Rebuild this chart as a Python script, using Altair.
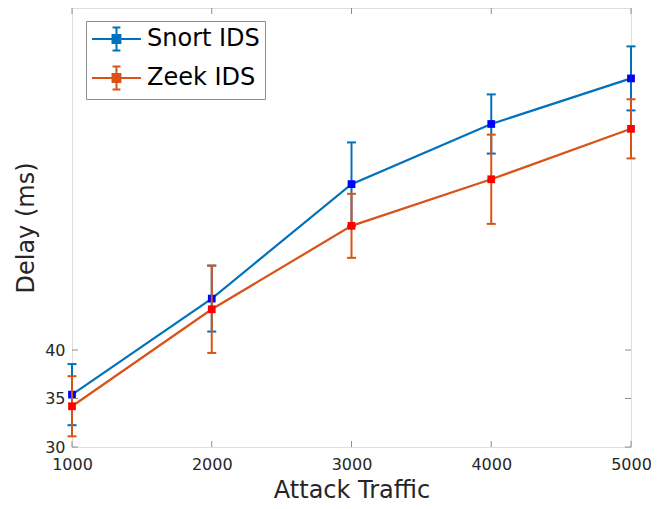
import altair as alt
import pandas as pd

# ---- data ----
traffic = [1000, 2000, 3000, 4000, 5000]
series_names = ["Snort IDS", "Zeek IDS"]
snort_delay = [35.4, 45.3, 57.1, 63.3, 68.0]
snort_err = [3.15, 3.4, 4.3, 3.05, 3.3]
zeek_delay = [34.2, 44.2, 52.8, 57.6, 62.8]
zeek_err = [3.1, 4.5, 3.3, 4.6, 3.05]
y_ticks = [30, 35, 40]
x_ticks = [1000, 2000, 3000, 4000, 5000]

line_colors = ["#0072BD", "#D95319"]
marker_colors = ["#0000FF", "#FF0000"]

rows = []
for name, vals, errs in [(series_names[0], snort_delay, snort_err),
                         (series_names[1], zeek_delay, zeek_err)]:
    for x, v, e in zip(traffic, vals, errs):
        rows.append({"series": name, "x": x, "y": v, "lo": v - e, "hi": v + e})
df = pd.DataFrame(rows)

W, H = 559, 439
Y_DOM = [30, 30 + 439 / 9.7]
X_DOM = [1000, 5000]
AX = "#8c8c8c"
TXT = "#262626"

sym = ("M-1,0H3.08M0.71,-0.333H1.37V0.333H0.71Z"
       "M1.04,-0.96V0.96M0.71,-0.96H1.37M0.71,0.96H1.37")

legend = alt.Legend(title=None, orient="none", legendX=14, legendY=13,
                    symbolType=sym, symbolSize=576, symbolStrokeWidth=2,
                    symbolOpacity=1,
                    labelFontSize=24, labelColor="#000000", labelFont="DejaVu Sans",
                    labelOffset=30, rowPadding=7, padding=5,
                    strokeColor=AX, fillColor="white")

xs = alt.Scale(domain=X_DOM, nice=False, zero=False)
ys = alt.Scale(domain=Y_DOM, nice=False, zero=False)
cs = alt.Scale(domain=series_names, range=line_colors)
fs = alt.Scale(domain=series_names, range=marker_colors)

x_axis = alt.Axis(values=x_ticks, format="d", title="Attack Traffic", grid=False,
                  domain=False, ticks=False, labelFlush=False, labelOverlap=False,
                  labelFontSize=16, labelColor=TXT, labelPadding=9,
                  titleFontSize=24, titleFontWeight="normal", titleColor=TXT,
                  titlePadding=6, labelFont="DejaVu Sans", titleFont="DejaVu Sans")
y_axis = alt.Axis(values=y_ticks, title="Delay (ms)", grid=False,
                  domain=False, ticks=False, labelFlush=False, labelOverlap=False,
                  labelFontSize=16, labelColor=TXT, labelPadding=7,
                  titleFontSize=24, titleFontWeight="normal", titleColor=TXT,
                  titlePadding=6, labelFont="DejaVu Sans", titleFont="DejaVu Sans")


def X(f):
    return alt.X(f, scale=xs, axis=x_axis)


def Y(f):
    return alt.Y(f, scale=ys, axis=y_axis)


base = alt.Chart(df)
layers = []
for name in series_names:
    sub = base.transform_filter(alt.datum.series == name)
    col = alt.Color("series:N", scale=cs, legend=legend)
    fil = alt.Fill("series:N", scale=fs, legend=legend)
    layers.append(sub.mark_line(strokeWidth=2.2, opacity=1).encode(
        x=X("x:Q"), y=Y("y:Q"), color=col))
    layers.append(sub.mark_rule(strokeWidth=2, opacity=1).encode(
        x=X("x:Q"), y=Y("lo:Q"), y2="hi:Q", color=col))
    layers.append(sub.mark_tick(orient="horizontal", size=9, thickness=2, opacity=1).encode(
        x=X("x:Q"), y=Y("lo:Q"), color=col))
    layers.append(sub.mark_tick(orient="horizontal", size=9, thickness=2, opacity=1).encode(
        x=X("x:Q"), y=Y("hi:Q"), color=col))
    layers.append(sub.mark_point(shape="square", filled=True, size=60, opacity=1,
                                 strokeWidth=0).encode(
        x=X("x:Q"), y=Y("y:Q"), fill=fil))

# inward tick marks (MATLAB-style box ticks)
yt = pd.DataFrame({"v": y_ticks})
xt = pd.DataFrame({"v": x_ticks})
TL = 6
layers.append(alt.Chart(yt).mark_rule(color=AX, strokeWidth=1).encode(
    y=Y("v:Q"), x=alt.value(0), x2=alt.value(TL)))
layers.append(alt.Chart(yt).mark_rule(color=AX, strokeWidth=1).encode(
    y=Y("v:Q"), x=alt.value(W - TL), x2=alt.value(W)))
layers.append(alt.Chart(xt).mark_rule(color=AX, strokeWidth=1).encode(
    x=X("v:Q"), y=alt.value(H - TL), y2=alt.value(H)))
layers.append(alt.Chart(xt).mark_rule(color=AX, strokeWidth=1).encode(
    x=X("v:Q"), y=alt.value(0), y2=alt.value(TL)))

chart = alt.layer(*layers).properties(
    width=W, height=H,
    autosize=alt.AutoSizeParams(type="none"),
    padding={"left": 64, "top": 0, "right": 20, "bottom": 60},
).configure_view(stroke=AX, strokeWidth=1).configure(background="white")

chart.save("out.html", embed_options={"renderer": "svg", "actions": False})
